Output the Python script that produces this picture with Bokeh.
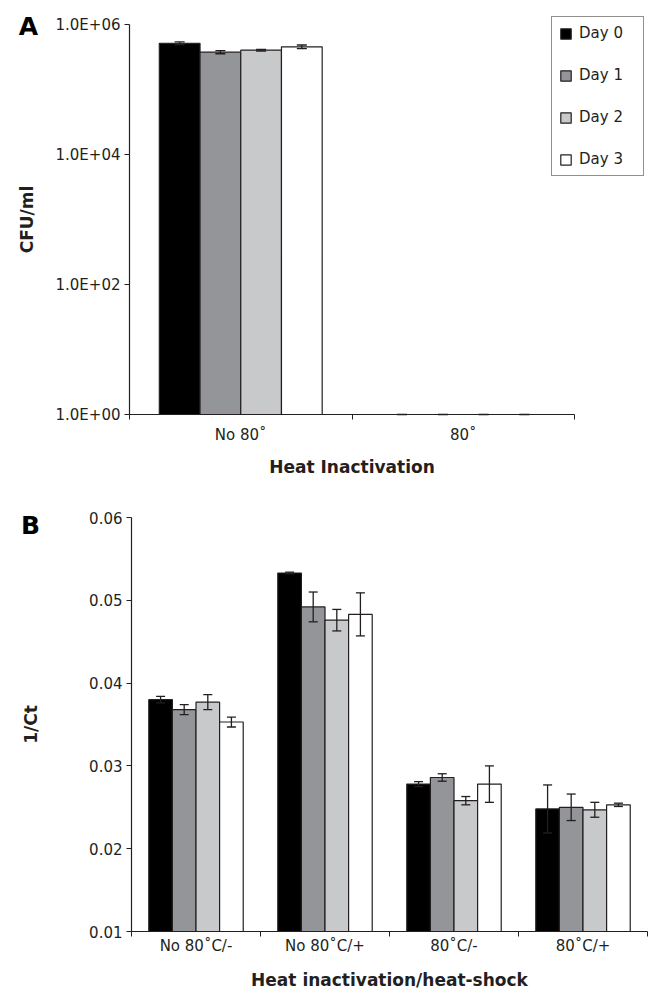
from bokeh.plotting import figure
from bokeh.models import (Range1d, FixedTicker, ColumnDataSource, Whisker, TeeHead,
                          Legend, LegendItem, Label)
from bokeh.embed import file_html
from bokeh.resources import INLINE

# ---------------- data ----------------
days = ["Day 0", "Day 1", "Day 2", "Day 3"]
day_colors = ["#000000", "#939598", "#c8c9cb", "#ffffff"]

# Panel A: CFU/ml
a_groups = ["No 80˚", "80˚"]
a_day0 = [5.15e5, 1.0]
a_day1 = [3.75e5, 1.0]
a_day2 = [4.03e5, 1.0]
a_day3 = [4.54e5, 1.0]
a_err0 = [0.25e5, 0.0]
a_err1 = [0.20e5, 0.0]
a_err2 = [0.12e5, 0.0]
a_err3 = [0.30e5, 0.0]
a_ticks = [1, 100, 10000, 1000000]
a_tick_labels = ["1.0E+00", "1.0E+02", "1.0E+04", "1.0E+06"]

# Panel B: 1/Ct
b_groups = ["No 80˚C/-", "No 80˚C/+", "80˚C/-", "80˚C/+"]
b_day0 = [0.0380, 0.0533, 0.0278, 0.0248]
b_day1 = [0.0368, 0.0492, 0.0286, 0.0250]
b_day2 = [0.0377, 0.0476, 0.0258, 0.0247]
b_day3 = [0.0353, 0.0483, 0.0278, 0.0253]
b_err0 = [0.0004, 0.0001, 0.0003, 0.0029]
b_err1 = [0.0006, 0.0018, 0.00045, 0.0016]
b_err2 = [0.0009, 0.0013, 0.0005, 0.0009]
b_err3 = [0.0006, 0.0026, 0.0022, 0.0002]
b_ticks = [0.01, 0.02, 0.03, 0.04, 0.05, 0.06]
b_tick_labels = ["0.01", "0.02", "0.03", "0.04", "0.05", "0.06"]

INK = "#231f20"
FONT = "DejaVu Sans"
BAR_W = 0.183
W = 649


def style_axes(p):
    for ax in (p.xaxis[0], p.yaxis[0]):
        ax.axis_line_color = INK
        ax.axis_line_width = 1.2
        ax.major_tick_line_color = INK
        ax.minor_tick_line_color = INK
        ax.major_label_text_font = FONT
        ax.major_label_text_font_size = "15px"
        ax.major_label_text_color = INK
        ax.axis_label_text_font = FONT
        ax.axis_label_text_font_size = "17px"
        ax.axis_label_text_font_style = "bold"
        ax.axis_label_text_color = INK
    p.xgrid.visible = False
    p.ygrid.visible = False
    p.outline_line_color = None


def add_bars(p, groups, values, errors, base, cap):
    renderers = []
    n = len(groups)
    for i, (vals, errs, col) in enumerate(zip(values, errors, day_colors)):
        xs = [g + 0.5 + (i - 1.5) * BAR_W for g in range(n)]
        src = ColumnDataSource(dict(
            x=xs, top=vals,
            upper=[v + e for v, e in zip(vals, errs)],
            lower=[v - e for v, e in zip(vals, errs)],
        ))
        r = p.vbar(x="x", top="top", bottom=base, width=BAR_W, source=src,
                   fill_color=col, line_color=INK, line_width=1.2)
        renderers.append(r)
        w = Whisker(base="x", upper="upper", lower="lower", source=src,
                    line_color=INK, line_width=1.3,
                    upper_head=TeeHead(size=cap, line_color=INK, line_width=1.3),
                    lower_head=TeeHead(size=cap, line_color=INK, line_width=1.3),
                    level="overlay")
        p.add_layout(w)
    return renderers


def cat_x_axis(p, groups, base):
    n = len(groups)
    ax = p.xaxis[0]
    ax.fixed_location = base
    ax.ticker = FixedTicker(ticks=[g + 0.5 for g in range(n)],
                            minor_ticks=list(range(n + 1)))
    ax.major_label_overrides = {g + 0.5: name for g, name in enumerate(groups)}
    ax.major_tick_out = 0
    ax.major_tick_in = 0
    ax.minor_tick_out = 5
    ax.minor_tick_in = 0
    ax.bounds = (0, n)


def value_y_axis(p, ticks, labels, standoff):
    ax = p.yaxis[0]
    ax.fixed_location = 0
    ax.bounds = (ticks[0], ticks[-1])
    ax.ticker = FixedTicker(ticks=ticks, minor_ticks=[])
    ax.major_label_overrides = dict(zip(ticks, labels))
    ax.major_tick_out = 5
    ax.major_tick_in = 0
    ax.major_label_standoff = 4
    ax.axis_label_standoff = standoff


# ---------------- Panel A ----------------
# pixel layout of panel A's plotting area (the frame fills the whole figure)
A_H, A_LEFT, A_RIGHT, A_TOP, A_BOT = 498, 129, 574, 24, 414
a_px = (A_RIGHT - A_LEFT) / len(a_groups)
a_dec = (A_BOT - A_TOP) / 6.0
pA = figure(width=W, height=A_H, y_axis_type="log",
            x_range=Range1d(-A_LEFT / a_px, len(a_groups) + (W - A_RIGHT) / a_px),
            y_range=Range1d(10 ** (-(A_H - A_BOT) / a_dec), 10 ** (6 + A_TOP / a_dec)),
            output_backend="svg", toolbar_location=None,
            min_border_left=0, min_border_right=0,
            min_border_top=0, min_border_bottom=0)
style_axes(pA)
rA = add_bars(pA, a_groups, [a_day0, a_day1, a_day2, a_day3],
              [a_err0, a_err1, a_err2, a_err3], a_ticks[0], 10)
cat_x_axis(pA, a_groups, a_ticks[0])
pA.xaxis.major_label_standoff = 6
pA.xaxis.axis_label = "Heat Inactivation"
pA.xaxis.axis_label_standoff = 10
value_y_axis(pA, a_ticks, a_tick_labels, 16)
pA.yaxis.axis_label = "CFU/ml"

legend = Legend(items=[LegendItem(label=d, renderers=[r]) for d, r in zip(days, rA)],
                location=(551, A_H - 176), orientation="vertical",
                border_line_color=INK, border_line_width=1.2,
                padding=7, spacing=24, label_height=17, glyph_height=13,
                glyph_width=13, label_standoff=7, label_width=57, margin=0,
                label_text_font=FONT, label_text_font_size="15px",
                label_text_color=INK, background_fill_alpha=1.0)
pA.add_layout(legend)

pA.add_layout(Label(x=28, y=A_H - 26, x_units="screen", y_units="screen", text="A",
                    text_font=FONT, text_font_size="25px", text_font_style="bold",
                    text_align="center", text_baseline="middle", text_color="#000000"))

# ---------------- Panel B ----------------
B_H, B_LEFT, B_RIGHT, B_TOP, B_BOT = 492, 131, 647, 19, 433
b_px = (B_RIGHT - B_LEFT) / len(b_groups)
b_unit = (B_BOT - B_TOP) / (b_ticks[-1] - b_ticks[0])
pB = figure(width=W, height=B_H,
            x_range=Range1d(-B_LEFT / b_px, len(b_groups) + (W - B_RIGHT) / b_px),
            y_range=Range1d(b_ticks[0] - (B_H - B_BOT) / b_unit, b_ticks[-1] + B_TOP / b_unit),
            output_backend="svg", toolbar_location=None,
            min_border_left=0, min_border_right=0,
            min_border_top=0, min_border_bottom=0)
style_axes(pB)
add_bars(pB, b_groups, [b_day0, b_day1, b_day2, b_day3],
         [b_err0, b_err1, b_err2, b_err3], b_ticks[0], 9)
cat_x_axis(pB, b_groups, b_ticks[0])
pB.xaxis.major_label_standoff = 0
pB.xaxis.axis_label = "Heat inactivation/heat-shock"
pB.xaxis.axis_label_standoff = 12
value_y_axis(pB, b_ticks, b_tick_labels, 45)
pB.yaxis.axis_label = "1/Ct"

pB.add_layout(Label(x=30, y=B_H - 27, x_units="screen", y_units="screen", text="B",
                    text_font=FONT, text_font_size="25px", text_font_style="bold",
                    text_align="center", text_baseline="middle", text_color="#000000"))

open("out.html", "w").write(file_html([pA, pB], INLINE))
